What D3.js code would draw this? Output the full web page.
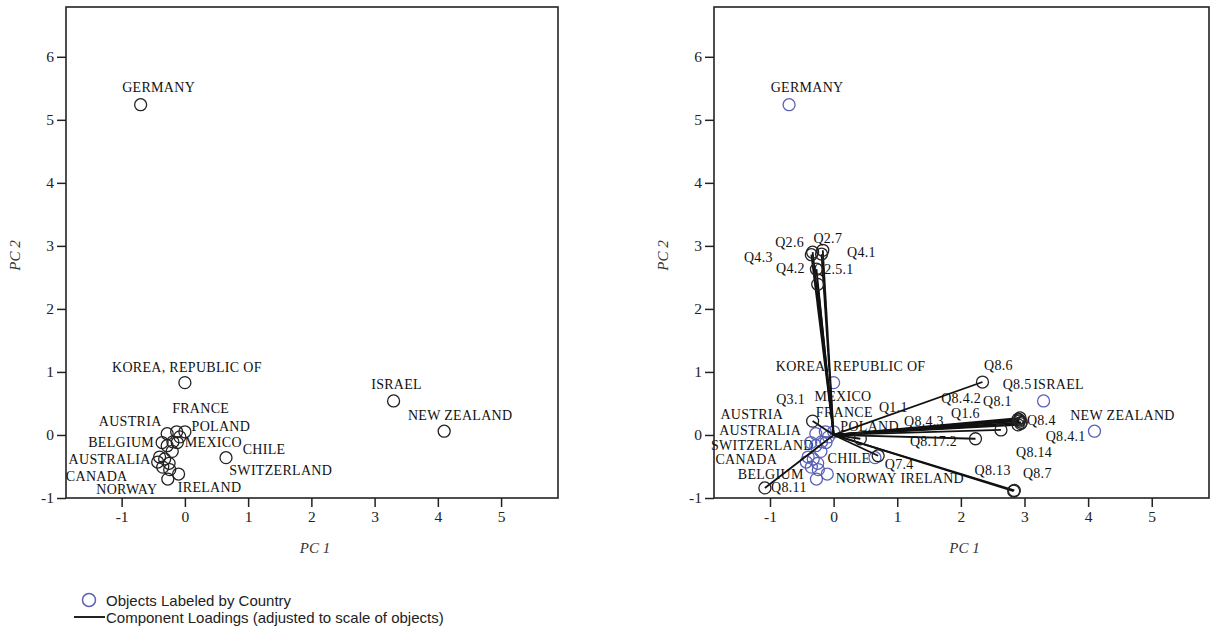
<!DOCTYPE html>
<html><head><meta charset="utf-8">
<script src="https://cdn.jsdelivr.net/npm/d3@7"></script>
<style>body{margin:0;background:#fff} svg{display:block}</style>
</head><body>
<svg id="chart" width="1211" height="635"></svg>
<script>
// ---- data ----
const countries = ["GERMANY","KOREA, REPUBLIC OF","ISRAEL","NEW ZEALAND","CHILE","POLAND","FRANCE","MEXICO","AUSTRIA","BELGIUM","AUSTRALIA","CANADA","SWITZERLAND","NORWAY","IRELAND","","","","","","",""];
const objPC1 = [-0.70, 0.00, 3.30, 4.10, 0.65, 0.00, -0.13, -0.12, -0.28, -0.36, -0.40, -0.43, -0.24, -0.27, -0.10, -0.28, -0.20, -0.32, -0.35, -0.19, -0.08, -0.25];
const objPC2 = [5.24, 0.83, 0.54, 0.06, -0.36, 0.05, 0.05, -0.12, 0.02, -0.12, -0.35, -0.43, -0.55, -0.70, -0.62, -0.17, -0.26, -0.38, -0.51, -0.11, -0.03, -0.45];

const loadingNames = ["Q2.6","Q2.7","Q4.1","Q4.3","Q4.2","Q2.5.1","Q8.6","Q8.5","Q8.1","Q8.4","Q8.4.1","Q8.14","Q1.6","Q8.4.2","Q8.4.3","Q8.17.2","Q8.13","Q8.7","Q8.11","Q7.4","Q3.1","Q1.1"];
const loadPC1 = [-0.33, -0.17, -0.19, -0.35, -0.27, -0.25, 2.34, 2.93, 2.92, 2.95, 2.94, 2.90, 2.92, 2.90, 2.63, 2.23, 2.83, 2.84, -1.08, 0.70, -0.33, 0.42];
const loadPC2 = [2.90, 2.93, 2.87, 2.86, 2.63, 2.39, 0.84, 0.27, 0.24, 0.20, 0.18, 0.16, 0.22, 0.25, 0.08, -0.06, -0.89, -0.88, -0.84, -0.33, 0.22, -0.06];

const xTicks = [-1, 0, 1, 2, 3, 4, 5];
const yTicks = [-1, 0, 1, 2, 3, 4, 5, 6];
const xTitle = "PC 1", yTitle = "PC 2";
const legendItems = ["Objects Labeled by Country", "Component Loadings (adjusted to scale of objects)"];

// ---- layout (label offsets in px, relative to the point) ----
const leftObjOffsets = {
  "GERMANY":[18,-17], "KOREA, REPUBLIC OF":[2,-15], "ISRAEL":[3,-16], "NEW ZEALAND":[16,-16],
  "CHILE":[38,-8], "POLAND":[36,-5], "FRANCE":[24,-23], "MEXICO":[36,0], "AUSTRIA":[-37,-12],
  "BELGIUM":[-41,0], "AUSTRALIA":[-50,2], "CANADA":[-61,14], "SWITZERLAND":[111,1],
  "NORWAY":[-41,10], "IRELAND":[31,13]
};
const rightObjOffsets = {
  "GERMANY":[18,-17], "KOREA, REPUBLIC OF":[17,-16], "ISRAEL":[15,-16], "NEW ZEALAND":[28,-16],
  "CHILE":[-26,1], "POLAND":[36,-5], "FRANCE":[19,-19], "MEXICO":[17,-46], "AUSTRIA":[-64,-19],
  "BELGIUM":[-40,32], "AUSTRALIA":[-48,-27], "CANADA":[-60,-3], "SWITZERLAND":[-56,-24],
  "NORWAY":[50,-1], "IRELAND":[105,4]
};
const loadOffsets = {
  "Q2.6":[-23,-10], "Q2.7":[5,-12], "Q4.1":[40,-2], "Q4.3":[-53,3], "Q4.2":[-26,-1], "Q2.5.1":[16,-15],
  "Q8.6":[16,-17], "Q8.5":[-3,-33], "Q8.1":[-22,-18], "Q8.4":[20,-2], "Q8.4.1":[45,13], "Q8.14":[16,28],
  "Q1.6":[-54,-8], "Q8.4.2":[-57,-21], "Q8.4.3":[-77,-8], "Q8.17.2":[-42,3], "Q8.13":[-21,-21],
  "Q8.7":[23,-17], "Q8.11":[24,0], "Q7.4":[21,9], "Q3.1":[-22,-22], "Q1.1":[33,-31]
};

const svg = d3.select("#chart");
const serif = "'Liberation Serif','DejaVu Serif',serif";
const sans = "'Liberation Sans',Arial,sans-serif";
const xDomain = [-1.88, 5.9], yDomain = [-1, 6.79];

function panel(box) {
  const x = d3.scaleLinear().domain(xDomain).range([box.x0, box.x1]);
  const y = d3.scaleLinear().domain(yDomain).range([box.y1, box.y0]);
  const g = svg.append("g");
  const ax = g.append("g").attr("transform", `translate(0,${box.y1})`)
    .call(d3.axisBottom(x).tickValues(xTicks).tickSize(9).tickPadding(4).tickSizeOuter(0).tickFormat(d => String(d)));
  const ay = g.append("g").attr("transform", `translate(${box.x0},0)`)
    .call(d3.axisLeft(y).tickValues(yTicks).tickSize(9).tickPadding(3).tickSizeOuter(0).tickFormat(d => String(d)));
  [ax, ay].forEach(a => {
    a.select(".domain").remove();
    a.selectAll("line").attr("stroke", "#222").attr("stroke-width", 1.5);
    a.selectAll("text").attr("font-family", serif).attr("font-size", 15.5).attr("fill", "#222");
  });
  g.append("rect").attr("x", box.x0).attr("y", box.y0)
    .attr("width", box.x1 - box.x0).attr("height", box.y1 - box.y0)
    .attr("fill", "none").attr("stroke", "#222").attr("stroke-width", 1.6);
  g.append("text").attr("x", (box.x0 + box.x1) / 2 + 3).attr("y", 553)
    .attr("text-anchor", "middle").attr("font-family", serif).attr("font-style", "italic")
    .attr("font-size", 15).attr("fill", "#333").text(xTitle);
  g.append("text").attr("transform", `translate(${box.x0 - 46},${(box.y0 + box.y1) / 2 + 3}) rotate(-90)`)
    .attr("text-anchor", "middle").attr("font-family", serif).attr("font-style", "italic")
    .attr("font-size", 15).attr("fill", "#333").text(yTitle);
  return {x, y, g};
}

function labels(g, x, y, names, xs, ys, offsets) {
  names.forEach((n, i) => {
    if (!n || !offsets[n]) return;
    g.append("text").attr("x", x(xs[i]) + offsets[n][0]).attr("y", y(ys[i]) + offsets[n][1])
      .attr("text-anchor", "middle").attr("dominant-baseline", "central")
      .attr("font-family", serif).attr("font-size", 14).attr("letter-spacing", 0.3)
      .attr("fill", "#111").text(n);
  });
}

// Left panel
const L = panel({x0: 66, x1: 558, y0: 7, y1: 498});
L.g.append("g").selectAll("circle").data(countries).join("circle")
  .attr("cx", (d, i) => L.x(objPC1[i])).attr("cy", (d, i) => L.y(objPC2[i])).attr("r", 6)
  .attr("fill", "none").attr("stroke", "#222").attr("stroke-width", 1.3);
labels(L.g, L.x, L.y, countries, objPC1, objPC2, leftObjOffsets);

// Right panel
const R = panel({x0: 714, x1: 1209, y0: 7, y1: 498});
labels(R.g, R.x, R.y, countries, objPC1, objPC2, rightObjOffsets);
labels(R.g, R.x, R.y, loadingNames, loadPC1, loadPC2, loadOffsets);
R.g.append("g").selectAll("circle").data(countries).join("circle")
  .attr("cx", (d, i) => R.x(objPC1[i])).attr("cy", (d, i) => R.y(objPC2[i])).attr("r", 6)
  .attr("fill", "none").attr("stroke", "#5a62b5").attr("stroke-width", 1.3);
R.g.append("g").selectAll("line").data(loadingNames).join("line")
  .attr("x1", R.x(0)).attr("y1", R.y(0))
  .attr("x2", (d, i) => R.x(loadPC1[i])).attr("y2", (d, i) => R.y(loadPC2[i]))
  .attr("stroke", "#111").attr("stroke-width", 1.8);
R.g.append("g").selectAll("circle").data(loadingNames).join("circle")
  .attr("cx", (d, i) => R.x(loadPC1[i])).attr("cy", (d, i) => R.y(loadPC2[i])).attr("r", 6)
  .attr("fill", "none").attr("stroke", "#222").attr("stroke-width", 1.3);

// Legend
const lg = svg.append("g");
lg.append("circle").attr("cx", 89).attr("cy", 600).attr("r", 6.5)
  .attr("fill", "none").attr("stroke", "#5a62b5").attr("stroke-width", 1.5);
lg.append("text").attr("x", 106).attr("y", 606).attr("font-family", sans).attr("font-size", 15)
  .attr("fill", "#222").text(legendItems[0]);
lg.append("line").attr("x1", 74).attr("x2", 105).attr("y1", 617).attr("y2", 617)
  .attr("stroke", "#222").attr("stroke-width", 2);
lg.append("text").attr("x", 106).attr("y", 623).attr("font-family", sans).attr("font-size", 15)
  .attr("fill", "#222").text(legendItems[1]);
</script>
</body></html>
